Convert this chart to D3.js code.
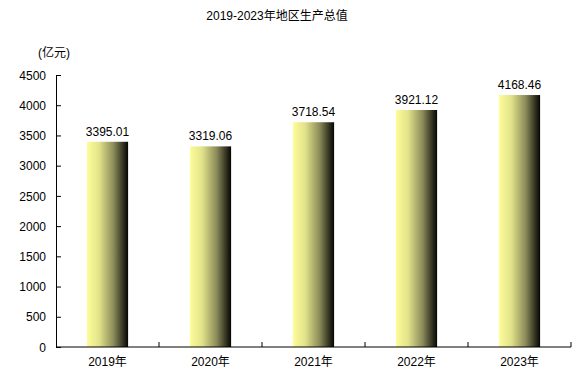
<!DOCTYPE html>
<html>
<head>
<meta charset="utf-8">
<script src="https://cdn.jsdelivr.net/npm/d3@7"></script>
<style>
  body { margin: 0; background: #fff; }
  text { font-family: "Liberation Sans", "Noto Sans CJK SC", sans-serif; font-size: 12px; fill: #000; }
</style>
</head>
<body>
<div id="chart"></div>
<script>
var years = ["2019年", "2020年", "2021年", "2022年", "2023年"]
var gdp = [3395.01, 3319.06, 3718.54, 3921.12, 4168.46]
var yTicks = [0, 500, 1000, 1500, 2000, 2500, 3000, 3500, 4000, 4500]

var width = 579, height = 388
var margin = { top: 75, right: 8, bottom: 41, left: 56 }

var svg = d3.select("#chart")
    .append("svg")
    .attr("width", width)
    .attr("height", height)

// bar gradient: pale yellow to near black
var grad = svg.append("defs").append("linearGradient")
    .attr("id", "barGrad")
    .attr("x1", "0%").attr("x2", "100%")
    .attr("y1", "0%").attr("y2", "0%")
grad.append("stop").attr("offset", "0%").attr("stop-color", "#fdfd9a")
grad.append("stop").attr("offset", "30%").attr("stop-color", "#e2e28a")
grad.append("stop").attr("offset", "65%").attr("stop-color", "#8a8a5a")
grad.append("stop").attr("offset", "100%").attr("stop-color", "#050503")

var x = d3.scaleBand()
    .domain(years)
    .range([margin.left, width - margin.right])
    .paddingInner(0.6)
    .paddingOuter(0.3)

var y = d3.scaleLinear()
    .domain([0, 4500])
    .range([height - margin.bottom, margin.top])

// title
svg.append("text")
    .attr("x", 277)
    .attr("y", 20)
    .attr("text-anchor", "middle")
    .text("2019-2023年地区生产总值")

// unit
svg.append("text")
    .attr("x", 38)
    .attr("y", 57)
    .text("(亿元)")

// y axis, ticks point inward
var yAxis = svg.append("g")
    .attr("transform", "translate(" + margin.left + ",0)")
    .call(d3.axisRight(y).tickValues(yTicks).tickSize(5).tickSizeOuter(0).tickFormat(d3.format("d")))
yAxis.select(".domain").attr("stroke", "#000")
yAxis.selectAll("text")
    .attr("x", -10)
    .attr("text-anchor", "end")
    .attr("dy", "0.35em")

// bars
svg.selectAll(".bar")
    .data(gdp)
    .enter()
    .append("rect")
    .attr("class", "bar")
    .attr("x", function (d, i) { return x(years[i]) })
    .attr("y", function (d) { return y(d) })
    .attr("width", x.bandwidth())
    .attr("height", function (d) { return y(0) - y(d) })
    .style("fill", "url(#barGrad)")

// value labels
svg.selectAll(".val")
    .data(gdp)
    .enter()
    .append("text")
    .attr("class", "val")
    .attr("x", function (d, i) { return x(years[i]) + x.bandwidth() / 2 })
    .attr("y", function (d) { return y(d) - 6 })
    .attr("text-anchor", "middle")
    .text(function (d) { return d.toFixed(2) })

// x axis
var step = x.step()
var x0 = margin.left
var xAxis = svg.append("g")
svg.append("line")
    .attr("x1", x0).attr("x2", width - margin.right)
    .attr("y1", y(0)).attr("y2", y(0))
    .attr("stroke", "#000")
years.forEach(function (yr, i) {
    var bx = x0 + step * (i + 1)
    xAxis.append("line")
        .attr("x1", bx).attr("x2", bx)
        .attr("y1", y(0)).attr("y2", y(0) - 5)
        .attr("stroke", "#000")
    xAxis.append("text")
        .attr("x", x(yr) + x.bandwidth() / 2)
        .attr("y", y(0) + 19)
        .attr("text-anchor", "middle")
        .text(yr)
})
</script>
</body>
</html>
